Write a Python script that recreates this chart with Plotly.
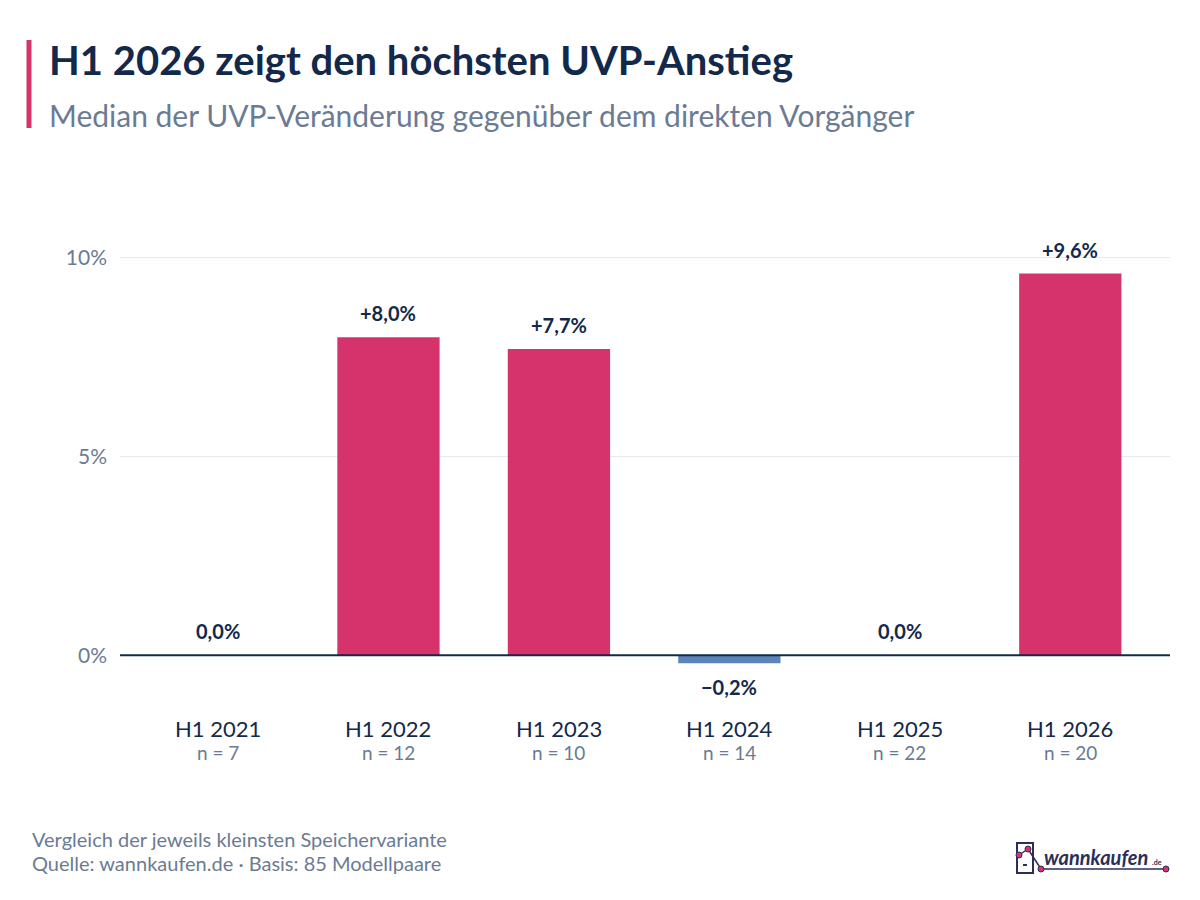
import plotly.graph_objects as go

categories = ["H1 2021", "H1 2022", "H1 2023", "H1 2024", "H1 2025", "H1 2026"]
n_counts = [7, 12, 10, 14, 22, 20]
values = [0.0, 8.0, 7.7, -0.2, 0.0, 9.6]
value_labels = ["0,0%", "+8,0%", "+7,7%", "\u22120,2%", "0,0%", "+9,6%"]
y_ticks = [0, 5, 10]
y_tick_labels = ["0%", "5%", "10%"]

W, H = 1200, 900
ML, MR, MT, MB = 120, 30, 198, 185
PW, PH = W - ML - MR, H - MT - MB

NAVY = "#13294b"
GRAY = "#6b7b93"
PINK = "#d6336c"
BLUE = "#5b85b8"
LOGO = "#2a2f5a"
FONT = "Lato"


def px(x):
    return (x - ML) / PW


def py(y):
    return (H - MB - y) / PH


bar_colors = [BLUE if v < 0 else PINK for v in values]

fig = go.Figure()
fig.add_trace(go.Bar(
    x=categories, y=values, marker=dict(color=bar_colors, line=dict(width=0)),
    width=0.6, hoverinfo="skip", showlegend=False,
))

annotations = []
for c, v, t in zip(categories, values, value_labels):
    if v >= 0:
        annotations.append(dict(x=c, y=v, xref="x", yref="y", text=f"<b>{t}</b>",
                                showarrow=False, yanchor="bottom", yshift=10,
                                font=dict(family=FONT, size=20, color=NAVY)))
    else:
        annotations.append(dict(x=c, y=v, xref="x", yref="y", text=f"<b>{t}</b>",
                                showarrow=False, yanchor="top", yshift=-10,
                                font=dict(family=FONT, size=20, color=NAVY)))

# category labels and sample sizes
for c, n in zip(categories, n_counts):
    annotations.append(dict(x=c, xref="x", yref="paper", y=py(728), yanchor="middle",
                            text=c, showarrow=False, font=dict(family=FONT, size=22, color=NAVY)))
    annotations.append(dict(x=c, xref="x", yref="paper", y=py(752), yanchor="middle",
                            text=f"n = {n}", showarrow=False, font=dict(family=FONT, size=19, color=GRAY)))

# Title & subtitle
annotations.append(dict(xref="paper", yref="paper", x=px(47), y=py(60), xanchor="left", yanchor="middle",
                        text="<b>H1 2026 zeigt den höchsten UVP-Anstieg</b>", showarrow=False,
                        font=dict(family=FONT, size=40, color=NAVY)))
annotations.append(dict(xref="paper", yref="paper", x=px(47), y=py(115), xanchor="left", yanchor="middle",
                        text="Median der UVP-Veränderung gegenüber dem direkten Vorgänger", showarrow=False,
                        font=dict(family=FONT, size=30, color=GRAY)))
# Footer
annotations.append(dict(xref="paper", yref="paper", x=px(30), y=py(839), xanchor="left", yanchor="middle",
                        text="Vergleich der jeweils kleinsten Speichervariante", showarrow=False,
                        font=dict(family=FONT, size=20, color=GRAY)))
annotations.append(dict(xref="paper", yref="paper", x=px(30), y=py(863), xanchor="left", yanchor="middle",
                        text="Quelle: wannkaufen.de · Basis: 85 Modellpaare", showarrow=False,
                        font=dict(family=FONT, size=20, color=GRAY)))
# Logo text
annotations.append(dict(xref="paper", yref="paper", x=px(1042), y=py(857), xanchor="left", yanchor="middle",
                        text="<b><i>wannkaufen</i></b>", showarrow=False,
                        font=dict(family=FONT, size=20, color=LOGO)))
annotations.append(dict(xref="paper", yref="paper", x=px(1150), y=py(862), xanchor="left", yanchor="middle",
                        text="<b>.de</b>", showarrow=False,
                        font=dict(family=FONT, size=7, color=LOGO)))

shapes = []
# accent bar
shapes.append(dict(type="line", xref="paper", yref="paper", x0=px(29), x1=px(29), y0=py(40), y1=py(128),
                   line=dict(color=PINK, width=5)))
# zero line
shapes.append(dict(type="line", xref="paper", yref="y", x0=0, x1=1, y0=0, y1=0,
                   line=dict(color=NAVY, width=2), layer="above"))
# logo phone outline
shapes.append(dict(type="rect", xref="paper", yref="paper", x0=px(1017), x1=px(1033), y0=py(873), y1=py(843),
                   line=dict(color=LOGO, width=2)))
shapes.append(dict(type="line", xref="paper", yref="paper", x0=px(1023), x1=px(1027), y0=py(865), y1=py(865),
                   line=dict(color=LOGO, width=2)))
# logo connecting lines
shapes.append(dict(type="line", xref="paper", yref="paper", x0=px(1019), x1=px(1028), y0=py(855), y1=py(849),
                   line=dict(color=LOGO, width=1.5)))
shapes.append(dict(type="line", xref="paper", yref="paper", x0=px(1028), x1=px(1041), y0=py(849), y1=py(869),
                   line=dict(color=LOGO, width=1.5)))
shapes.append(dict(type="line", xref="paper", yref="paper", x0=px(1041), x1=px(1166), y0=py(869), y1=py(869),
                   line=dict(color=LOGO, width=1.5)))
for cx, cy in [(1019, 855), (1028, 849), (1041, 869), (1166, 869)]:
    shapes.append(dict(type="circle", xref="paper", yref="paper",
                       x0=px(cx - 3), x1=px(cx + 3), y0=py(cy + 3), y1=py(cy - 3),
                       fillcolor=PINK, line=dict(color=LOGO, width=1)))

fig.update_layout(
    width=W, height=H,
    margin=dict(l=ML, r=MR, t=MT, b=MB, autoexpand=False),
    paper_bgcolor="white", plot_bgcolor="white",
    font=dict(family=FONT, color=NAVY),
    xaxis=dict(type="category", range=[-0.575, 5.585], showticklabels=False,
               showgrid=False, zeroline=False, showline=False, ticks=""),
    yaxis=dict(range=[-1.5, 11.5], tickmode="array", tickvals=y_ticks, ticktext=y_tick_labels,
               tickfont=dict(family=FONT, size=21, color=GRAY), showgrid=True, gridcolor="#e6eaf0",
               gridwidth=1, zeroline=False, showline=False, ticks="", ticklabelstandoff=12),
    annotations=annotations, shapes=shapes,
)

fig.write_html("out.html")
